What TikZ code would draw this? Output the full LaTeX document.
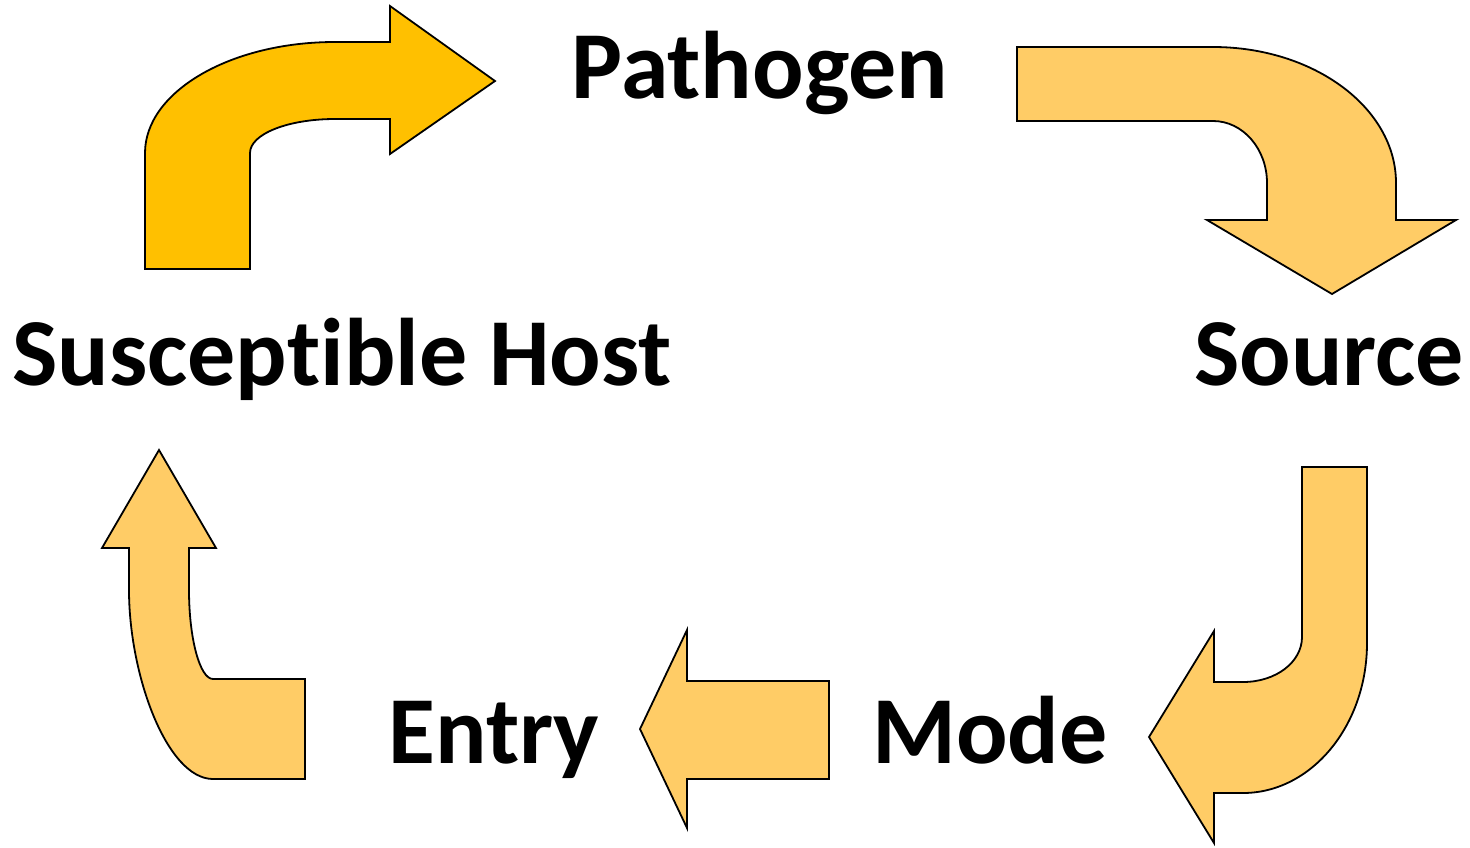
\documentclass[tikz,border=0pt]{standalone}
\usepackage{fontspec}
\setmainfont[Ligatures={NoCommon,NoContextual},RawFeature={-liga;-calt;-clig}]{Carlito}
\definecolor{darkgold}{HTML}{FFC000}
\definecolor{lightgold}{HTML}{FFCC66}
\begin{document}
\begin{tikzpicture}[x=1pt,y=-1pt,
  arrowshape/.style={draw=black,line width=1.8pt,line join=miter},
  label/.style={anchor=base,inner sep=0pt,font=\fontsize{96}{110}\selectfont\bfseries}]
\useasboundingbox (0,0) rectangle (1470,847);
% arrow 1: host -> pathogen
\path[arrowshape,fill=darkgold] (145,269) -- (145,153)
  .. controls (145,92) and (230,42) .. (335,42) -- (390,42) -- (390,6) -- (495,81)
  -- (390,154) -- (390,119) -- (335,119)
  .. controls (288,119) and (250,134) .. (250,153) -- (250,269) -- cycle;
% arrow 2: pathogen -> source
\path[arrowshape,fill=lightgold] (1017,47) -- (1213,47)
  .. controls (1314,47) and (1396,108) .. (1396,183) -- (1396,220) -- (1456,220)
  -- (1332,294) -- (1207,220) -- (1267,220) -- (1267,183)
  .. controls (1267,149) and (1243,121) .. (1213,121) -- (1017,121) -- cycle;
% arrow 3: source -> mode
\path[arrowshape,fill=lightgold] (1302,467) -- (1367,467) -- (1367,643)
  .. controls (1367,726) and (1311,793) .. (1243,793) -- (1214,793) -- (1214,843)
  -- (1149,737) -- (1214,631) -- (1214,682) -- (1243,682)
  .. controls (1276,682) and (1302,662) .. (1302,637) -- cycle;
% arrow 4: mode -> entry
\path[arrowshape,fill=lightgold] (829,681) -- (687,681) -- (687,630) -- (640,729)
  -- (687,828) -- (687,779) -- (829,779) -- cycle;
% arrow 5: entry -> host
\path[arrowshape,fill=lightgold] (305,779) -- (213,779)
  .. controls (167,779) and (129,675) .. (129,590) -- (129,548) -- (102,548)
  -- (159,450) -- (216,548) -- (189,548) -- (189,590)
  .. controls (189,639) and (200,679) .. (213,679) -- (305,679) -- cycle;
% labels
\node[label] (pathogen) at (760,98) {Pathogen};
\node[label] (host) at (342,385) {Suscept\kern0pt ible Host};
\node[label] (source) at (1329,385) {Source};
\node[label] (entry) at (494,763) {Entry};
\node[label] (mode) at (990,763) {Mode};
\end{tikzpicture}
\end{document}
